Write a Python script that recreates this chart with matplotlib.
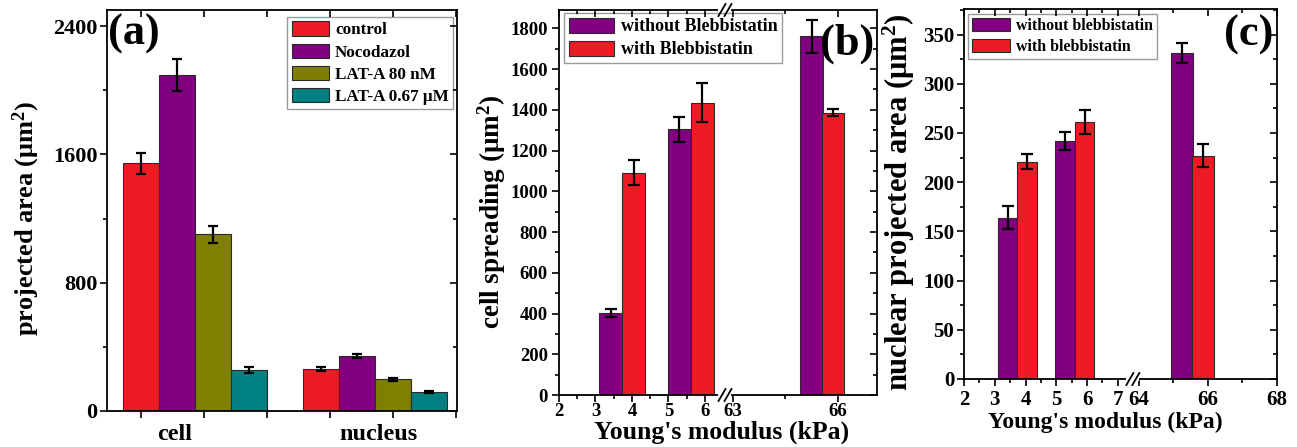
import numpy as np
import matplotlib
matplotlib.use("Agg")
import matplotlib.pyplot as plt
from matplotlib.ticker import FixedLocator, MultipleLocator

plt.rcParams['font.family'] = ['Liberation Serif', 'DejaVu Serif']
plt.rcParams['font.weight'] = 'bold'
plt.rcParams['axes.labelweight'] = 'bold'
plt.rcParams['mathtext.fontset'] = 'custom'
plt.rcParams['mathtext.rm'] = 'Liberation Serif:bold'
plt.rcParams['mathtext.default'] = 'rm'
plt.rcParams['axes.linewidth'] = 1.3

# ---------------- data ----------------
# panel (a)
a_groups = ['cell', 'nucleus']
a_series = ['control', 'Nocodazol', 'LAT-A 80 nM', 'LAT-A 0.67 μM']
a_control = [1544, 262]
a_control_err = [64, 10]
a_nocodazol = [2095, 345]
a_nocodazol_err = [99, 12]
a_lat80 = [1103, 198]
a_lat80_err = [53, 10]
a_lat067 = [255, 120]
a_lat067_err = [17, 6]

# panel (b) and (c): Young's modulus (kPa)
x_without = [3.42, 5.29, 65.25]
x_with = [4.05, 5.92, 65.87]
b_without = [401, 1304, 1762]
b_without_err = [20, 60, 81]
b_with = [1091, 1435, 1386]
b_with_err = [62, 97, 17]
c_without = [164, 242, 331]
c_without_err = [12, 9, 10]
c_with = [221, 261, 227]
c_with_err = [7.5, 12.5, 12]

b_xticklabels = ['2', '3', '4', '5', '6', '63', '66']
c_xticklabels = ['2', '3', '4', '5', '6', '7', '64', '66', '68']

RED = '#ED1C24'
PURPLE = '#800080'
OLIVE = '#808000'
TEAL = '#008080'
EDGE = '#2a2a2a'

W, H = 1297, 447
fig = plt.figure(figsize=(W / 100, H / 100), dpi=100)


def rect(l, t, r, b):
    return [l / W, 1 - b / H, (r - l) / W, (b - t) / H]


def mirror(ax, xmajor_len=5, xminor_len=3, ymajor_len=5, yminor_len=3):
    m = ax.figure.add_axes(ax.get_position(), sharex=ax, sharey=ax, frameon=False)
    m.patch.set_visible(False)
    m.tick_params(which='both', direction='in', top=True, right=True,
                  bottom=False, left=False, labeltop=False, labelright=False,
                  labelbottom=False, labelleft=False, width=1.2)
    m.tick_params(axis='x', which='major', length=xmajor_len)
    m.tick_params(axis='x', which='minor', length=xminor_len)
    m.tick_params(axis='y', which='major', length=ymajor_len)
    m.tick_params(axis='y', which='minor', length=yminor_len)
    return m


def broken(b1, b2, k):
    def fwd(x):
        x = np.asarray(x, dtype=float)
        return np.where(x <= b1, x, np.where(x >= b2, b1 + (x - b2) * k, b1))

    def inv(y):
        y = np.asarray(y, dtype=float)
        return np.where(y <= b1, y, b2 + (y - b1) / k)
    return fwd, inv


def break_marks(ax, b1, top=True):
    fx = ax.transAxes.inverted().transform(ax.transData.transform((b1, 0)))[0]
    bb = ax.get_window_extent()
    dx = 3.0 / bb.width
    sx = 3.5 / bb.width
    sy = 6.0 / bb.height
    ys = [0.0] + ([1.0] if top else [])
    for y0 in ys:
        ax.add_patch(plt.Rectangle((fx - dx - sx, y0 - 1.5 / bb.height), 2 * (dx + sx), 3.0 / bb.height,
                                   transform=ax.transAxes, facecolor='white', edgecolor='none',
                                   clip_on=False, zorder=5))
        for off in (-dx, dx):
            ax.plot([fx + off - sx, fx + off + sx], [y0 - sy, y0 + sy], transform=ax.transAxes,
                    color='black', lw=1.3, clip_on=False, zorder=6)


ekw = dict(elinewidth=1.6, capthick=1.6, ecolor='black')

# ---------------- panel (a) ----------------
axA = fig.add_axes(rect(107, 10, 457, 411))
xa = np.arange(len(a_groups)) + 1.0
wa = 0.2
a_vals = [a_control, a_nocodazol, a_lat80, a_lat067]
a_errs = [a_control_err, a_nocodazol_err, a_lat80_err, a_lat067_err]
a_cols = [RED, PURPLE, OLIVE, TEAL]
for i, (v, e, c, lab) in enumerate(zip(a_vals, a_errs, a_cols, a_series)):
    axA.bar(xa + (i - 1.5) * wa, v, wa, yerr=e, color=c, edgecolor=EDGE, linewidth=0.8,
            label=lab, capsize=3.5, error_kw=ekw)
axA.set_xlim(0.511, 2.456)
axA.set_ylim(0, 2500)
axA.yaxis.set_major_locator(MultipleLocator(800))
axA.yaxis.set_minor_locator(MultipleLocator(400))
axA.xaxis.set_major_locator(FixedLocator([0.889, 2.022]))
axA.set_xticklabels(a_groups)
axA.xaxis.set_minor_locator(FixedLocator(np.arange(0.7, 2.46, 0.35)))
axA.tick_params(axis='x', which='major', length=0, pad=9, labelsize=17.5)
axA.tick_params(axis='x', which='minor', length=5, width=1.2, direction='out')
axA.tick_params(axis='y', which='major', length=5, width=1.2, direction='out', labelsize=16, pad=2)
axA.tick_params(axis='y', which='minor', length=3, width=1.2, direction='out')
axA.set_ylabel('projected area (μm$^{2}$)', fontsize=19)
axA.yaxis.set_label_coords(-0.186, 0.481)
leg = axA.legend(loc='upper right', bbox_to_anchor=(0.989, 0.982), fontsize=12.3,
                 handlelength=2.2, handleheight=0.9, labelspacing=0.3, handletextpad=0.35,
                 borderpad=0.25, borderaxespad=0, fancybox=False, framealpha=1,
                 edgecolor='#9a9a9a')
leg.get_frame().set_linewidth(1.0)
axA.text(0.003, 0.99, '(a)', transform=axA.transAxes, fontsize=32, ha='left', va='top')
mA = mirror(axA, xmajor_len=0, xminor_len=5)

# ---------------- panel (b) ----------------
axB = fig.add_axes(rect(559, 10, 877, 395))
b_b1, b_b2 = 6.55, 62.78
fB = broken(b_b1, b_b2, 0.96)
axB.set_xscale('function', functions=fB)
axB.set_xlim(2, 67.12)
axB.set_ylim(0, 1890)
wb = 0.63
axB.bar(x_without, b_without, wb, yerr=b_without_err, color=PURPLE, edgecolor=EDGE,
        linewidth=0.8, label='without Blebbistatin', capsize=4, error_kw=ekw)
axB.bar(x_with, b_with, wb, yerr=b_with_err, color=RED, edgecolor=EDGE,
        linewidth=0.8, label='with Blebbistatin', capsize=4, error_kw=ekw)
axB.xaxis.set_major_locator(FixedLocator([2, 3, 4, 5, 6, 63, 66]))
axB.set_xticklabels(b_xticklabels)
axB.xaxis.set_minor_locator(FixedLocator([2.5, 3.5, 4.5, 5.5, 64.5]))
axB.yaxis.set_major_locator(MultipleLocator(200))
axB.yaxis.set_minor_locator(MultipleLocator(100))
axB.tick_params(which='major', length=5, width=1.2, direction='out', labelsize=13.5)
axB.tick_params(which='minor', length=3, width=1.2, direction='out')
axB.tick_params(axis='x', which='major', pad=1)
axB.tick_params(axis='y', which='major', pad=3)
axB.set_ylabel('cell spreading (μm$^{2}$)', fontsize=19.5)
axB.yaxis.set_label_coords(-0.16, 0.477)
axB.set_xlabel("Young's modulus (kPa)", fontsize=18.5)
axB.xaxis.set_label_coords(0.511, -0.066)
leg = axB.legend(loc='upper left', bbox_to_anchor=(0.016, 0.992), fontsize=13,
                 handlelength=2.5, handleheight=0.9, labelspacing=0.3, handletextpad=0.4,
                 borderpad=0.25, borderaxespad=0, fancybox=False, framealpha=1,
                 edgecolor='#9a9a9a')
leg.get_frame().set_linewidth(1.0)
axB.text(0.99, 0.965, '(b)', transform=axB.transAxes, fontsize=32, ha='right', va='top')
mB = mirror(axB)
break_marks(axB, b_b1, top=True)

# ---------------- panel (c) ----------------
axC = fig.add_axes(rect(964, 9, 1277, 379))
c_b1, c_b2 = 7.49, 63.83
fC = broken(c_b1, c_b2, 1.124)
axC.set_xscale('function', functions=fC)
axC.set_xlim(2, 68)
axC.set_ylim(0, 376)
axC.bar(x_without, c_without, wb, yerr=c_without_err, color=PURPLE, edgecolor=EDGE,
        linewidth=0.8, label='without blebbistatin', capsize=4, error_kw=ekw)
axC.bar(x_with, c_with, wb, yerr=c_with_err, color=RED, edgecolor=EDGE,
        linewidth=0.8, label='with blebbistatin', capsize=4, error_kw=ekw)
axC.xaxis.set_major_locator(FixedLocator([2, 3, 4, 5, 6, 7, 64, 66, 68]))
axC.set_xticklabels(c_xticklabels)
axC.xaxis.set_minor_locator(FixedLocator([2.5, 3.5, 4.5, 5.5, 6.5, 65, 67]))
axC.yaxis.set_major_locator(MultipleLocator(50))
axC.yaxis.set_minor_locator(MultipleLocator(25))
axC.tick_params(which='major', length=5, width=1.2, direction='out', labelsize=15)
axC.tick_params(which='minor', length=3, width=1.2, direction='out')
axC.tick_params(axis='x', which='major', pad=3)
axC.tick_params(axis='y', which='major', pad=2)
axC.set_ylabel('nuclear projected area (μm$^{2}$)', fontsize=22)
axC.yaxis.set_label_coords(-0.151, 0.478)
axC.set_xlabel("Young's modulus (kPa)", fontsize=17)
axC.xaxis.set_label_coords(0.45, -0.088)
leg = axC.legend(loc='upper left', bbox_to_anchor=(0.012, 0.986), fontsize=11.4,
                 handlelength=2.4, handleheight=0.9, labelspacing=0.3, handletextpad=0.4,
                 borderpad=0.25, borderaxespad=0, fancybox=False, framealpha=1,
                 edgecolor='#9a9a9a')
leg.get_frame().set_linewidth(1.0)
axC.text(0.99, 0.985, '(c)', transform=axC.transAxes, fontsize=32, ha='right', va='top')
mC = mirror(axC)
break_marks(axC, c_b1, top=False)

fig.savefig('out.png', dpi=100)
